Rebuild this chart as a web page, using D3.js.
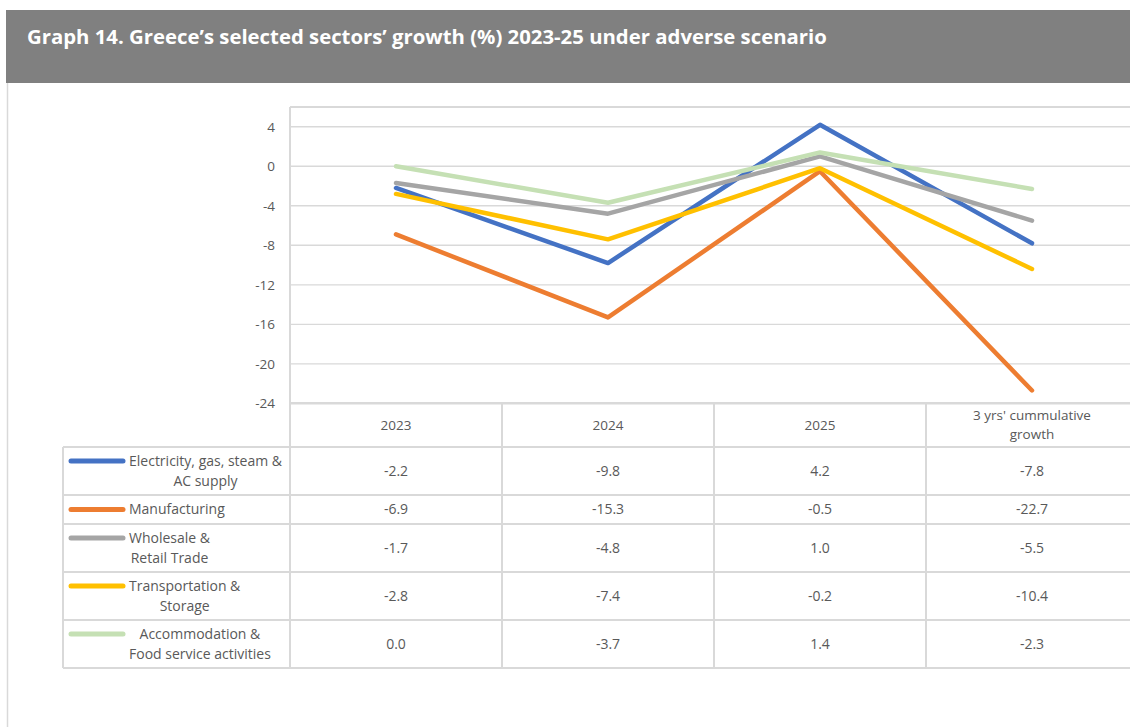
<!DOCTYPE html>
<html>
<head>
<meta charset="utf-8">
<script src="https://cdn.jsdelivr.net/npm/d3@7"></script>
<style>
  html, body { margin: 0; padding: 0; background: #fff; }
  svg { display: block; font-family: "Open Sans", "Liberation Sans", sans-serif; }
</style>
</head>
<body>
<svg id="chart" width="1130" height="727"></svg>
<script>
// ---- data ----
const title = "Graph 14. Greece\u2019s selected sectors\u2019 growth (%) 2023-25 under adverse scenario";
const categories = ["2023", "2024", "2025", "3 yrs' cummulative growth"];
const categoryLines = [["2023"], ["2024"], ["2025"], ["3 yrs' cummulative", "growth"]];
const seriesNames = [
  ["Electricity, gas, steam &", "AC supply"],
  ["Manufacturing"],
  ["Wholesale &", "Retail Trade"],
  ["Transportation &", "Storage"],
  ["Accommodation &", "Food service activities"]
];
const seriesColors = ["#4472C4", "#ED7D31", "#A5A5A5", "#FFC000", "#C5E0B4"];
const electricity = [-2.2, -9.8, 4.2, -7.8];
const manufacturing = [-6.9, -15.3, -0.5, -22.7];
const wholesale = [-1.7, -4.8, 1.0, -5.5];
const transport = [-2.8, -7.4, -0.2, -10.4];
const accommodation = [0.0, -3.7, 1.4, -2.3];
const seriesValues = [electricity, manufacturing, wholesale, transport, accommodation];
const yTicks = [4, 0, -4, -8, -12, -16, -20, -24];

// ---- layout ----
const W = 1130, H = 727;
const plotLeft = 290, plotRight = 1138, plotTop = 107, axisY = 403.3;
const tableLeft = 63;
const headerBottom = 447;
const rowBounds = [447, 495, 524, 572, 620, 668];
const gridColor = "#d9d9d9";
const textColor = "#595959";

// plain hyphen-minus for negative numbers
const fmt1 = v => v.toFixed(1);
const fmt0 = v => String(v);

const svg = d3.select("#chart");

// title band
svg.append("rect").attr("x", 6).attr("y", 10).attr("width", W - 6).attr("height", 73).attr("fill", "#808080");
const titleText = svg.append("text")
  .attr("x", 27).attr("y", 44)
  .attr("fill", "#ffffff").attr("font-weight", 700).attr("font-size", 19)
  .text(title);
// fit title to its line
const tw = titleText.node().getComputedTextLength();
titleText.attr("font-size", 19 * 800 / tw);

// left frame line
svg.append("line").attr("x1", 7.5).attr("x2", 7.5).attr("y1", 83).attr("y2", H)
  .attr("stroke", "#d9d9d9").attr("stroke-width", 1.5);

// ---- scales ----
const x = d3.scaleBand().domain(categories).range([plotLeft, plotLeft + 212 * 4]).padding(0);
const y = d3.scaleLinear().domain([-24, 6]).range([axisY, plotTop]);

// gridlines
svg.append("g").selectAll("line").data(yTicks.filter(t => t !== -24)).join("line")
  .attr("x1", plotLeft).attr("x2", plotRight)
  .attr("y1", d => y(d)).attr("y2", d => y(d))
  .attr("stroke", gridColor).attr("stroke-width", 1.3);

// plot frame (top)
svg.append("line").attr("x1", plotLeft).attr("x2", plotRight).attr("y1", plotTop).attr("y2", plotTop)
  .attr("stroke", gridColor).attr("stroke-width", 2);

// y axis labels
const yAxis = d3.axisLeft(y).tickValues(yTicks).tickSize(0).tickPadding(15).tickFormat(fmt0);
const yg = svg.append("g").attr("transform", `translate(${plotLeft},0)`).call(yAxis);
yg.select(".domain").remove();
yg.selectAll("text").attr("fill", textColor).attr("font-size", 13.5)
  .attr("font-family", "\"Open Sans\", sans-serif");

// ---- data table ----
const tg = svg.append("g");
// horizontal rules
tg.append("line").attr("x1", plotLeft).attr("x2", plotRight).attr("y1", axisY).attr("y2", axisY)
  .attr("stroke", gridColor).attr("stroke-width", 2.5);
tg.selectAll("line.row").data(rowBounds).join("line").attr("class", "row")
  .attr("x1", tableLeft).attr("x2", plotRight)
  .attr("y1", d => d).attr("y2", d => d)
  .attr("stroke", gridColor).attr("stroke-width", 2);
// vertical rules
tg.append("line").attr("x1", tableLeft).attr("x2", tableLeft).attr("y1", rowBounds[0]).attr("y2", rowBounds[5])
  .attr("stroke", gridColor).attr("stroke-width", 2);
tg.append("line").attr("x1", plotLeft).attr("x2", plotLeft).attr("y1", plotTop).attr("y2", rowBounds[5])
  .attr("stroke", gridColor).attr("stroke-width", 2);
tg.selectAll("line.col").data(categories.slice(1)).join("line").attr("class", "col")
  .attr("x1", d => x(d)).attr("x2", d => x(d))
  .attr("y1", axisY).attr("y2", rowBounds[5])
  .attr("stroke", gridColor).attr("stroke-width", 2);

// header labels
categories.forEach((c, i) => {
  const lines = categoryLines[i];
  const cy = (axisY + headerBottom) / 2;
  const t = tg.append("text").attr("x", x(c) + x.bandwidth() / 2).attr("text-anchor", "middle")
    .attr("fill", textColor).attr("font-size", 13.5);
  lines.forEach((ln, k) => {
    t.append("tspan").attr("x", x(c) + x.bandwidth() / 2)
      .attr("y", cy + (k - (lines.length - 1) / 2) * 19).attr("dy", "0.35em").text(ln);
  });
});

// rows: legend key, name, values
seriesValues.forEach((vals, r) => {
  const top = rowBounds[r], bot = rowBounds[r + 1];
  const cy = (top + bot) / 2;
  const lines = seriesNames[r];
  const firstY = cy - (lines.length - 1) / 2 * 20;
  // legend key
  tg.append("line").attr("x1", 71).attr("x2", 123).attr("y1", firstY).attr("y2", firstY)
    .attr("stroke", seriesColors[r]).attr("stroke-width", 5).attr("stroke-linecap", "round");
  // name block: left-aligned block, each line centred within it
  const nameG = tg.append("g");
  const texts = lines.map((ln, k) => nameG.append("text")
    .attr("y", firstY + k * 20).attr("dy", "0.35em")
    .attr("text-anchor", "middle").attr("fill", textColor).attr("font-size", 14).text(ln));
  const wmax = d3.max(texts, t => t.node().getComputedTextLength());
  texts.forEach(t => t.attr("x", 129 + wmax / 2));
  // values
  vals.forEach((v, i) => {
    tg.append("text").attr("x", x(categories[i]) + x.bandwidth() / 2).attr("y", cy).attr("dy", "0.35em")
      .attr("text-anchor", "middle").attr("fill", textColor).attr("font-size", 14)
      .text(fmt1(v));
  });
});

// ---- lines ----
const line = d3.line()
  .x((d, i) => x(categories[i]) + x.bandwidth() / 2)
  .y(d => y(d));
svg.append("g").selectAll("path").data(seriesValues).join("path")
  .attr("d", d => line(d))
  .attr("fill", "none")
  .attr("stroke", (d, i) => seriesColors[i])
  .attr("stroke-width", 4.5)
  .attr("stroke-linejoin", "round")
  .attr("stroke-linecap", "round");
</script>
</body>
</html>
